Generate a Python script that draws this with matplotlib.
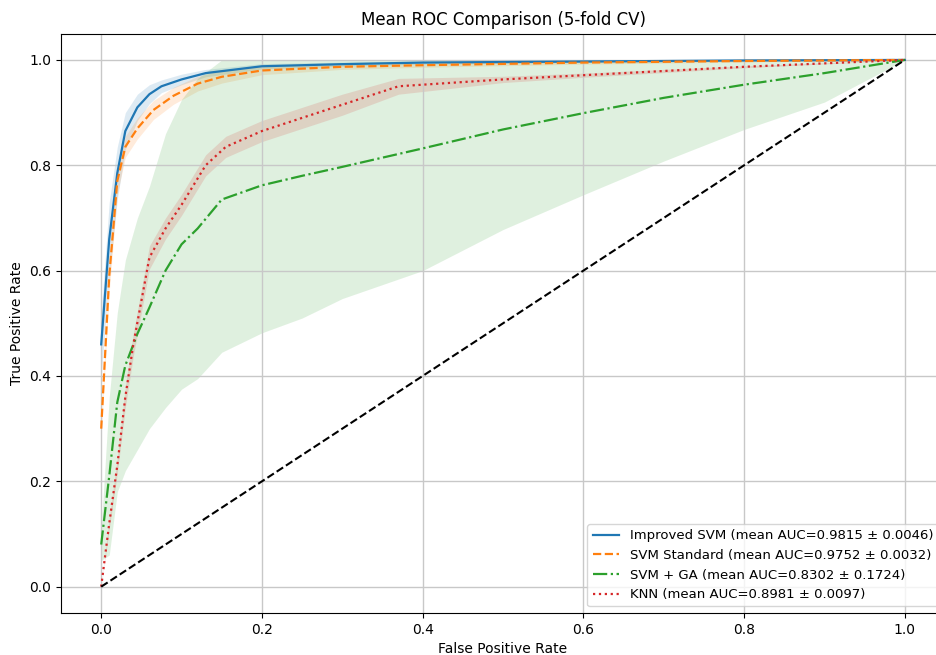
import numpy as np
import matplotlib
matplotlib.use("Agg")
import matplotlib.pyplot as plt

# ---- data ----
imp_fpr = [0, 0.01, 0.02, 0.03, 0.045, 0.06, 0.075, 0.1, 0.13, 0.2, 0.3, 0.4, 0.6, 0.8, 1.0]
imp_tpr = [0.46, 0.66, 0.785, 0.865, 0.91, 0.935, 0.95, 0.963, 0.975, 0.988, 0.992, 0.995, 0.997, 0.999, 1.0]
imp_std = [0.06, 0.07, 0.05, 0.035, 0.025, 0.018, 0.012, 0.01, 0.007, 0.005, 0.004, 0.003, 0.002, 0.001, 0.0]

std_fpr = [0, 0.01, 0.02, 0.03, 0.045, 0.065, 0.09, 0.12, 0.15, 0.2, 0.3, 0.4, 0.6, 0.8, 1.0]
std_tpr = [0.30, 0.59, 0.77, 0.835, 0.87, 0.905, 0.932, 0.955, 0.968, 0.98, 0.987, 0.99, 0.995, 0.998, 1.0]
std_std = [0.01, 0.03, 0.025, 0.02, 0.02, 0.018, 0.016, 0.014, 0.012, 0.008, 0.005, 0.004, 0.003, 0.002, 0.0]

ga_fpr = [0, 0.01, 0.02, 0.03, 0.045, 0.06, 0.08, 0.1, 0.12, 0.15, 0.2, 0.25, 0.3, 0.4, 0.5, 0.6, 0.7, 0.8, 0.9, 1.0]
ga_tpr = [0.08, 0.21, 0.35, 0.42, 0.48, 0.53, 0.60, 0.65, 0.68, 0.735, 0.762, 0.78, 0.797, 0.832, 0.868, 0.899, 0.928, 0.953, 0.975, 1.0]
ga_std = [0.03, 0.15, 0.17, 0.20, 0.22, 0.23, 0.26, 0.275, 0.285, 0.29, 0.28, 0.27, 0.25, 0.232, 0.19, 0.155, 0.12, 0.085, 0.055, 0.0]

knn_fpr = [0, 0.01, 0.02, 0.03, 0.04, 0.06, 0.08, 0.1, 0.13, 0.155, 0.2, 0.25, 0.3, 0.37, 0.5, 0.6, 0.8, 1.0]
knn_tpr = [0.0, 0.12, 0.23, 0.36, 0.46, 0.625, 0.68, 0.725, 0.80, 0.835, 0.865, 0.89, 0.915, 0.95, 0.963, 0.971, 0.987, 1.0]
knn_std = [0.0, 0.01, 0.015, 0.02, 0.022, 0.022, 0.02, 0.02, 0.02, 0.02, 0.02, 0.02, 0.02, 0.015, 0.006, 0.004, 0.002, 0.0]

labels = [
    "Improved SVM (mean AUC=0.9815 ± 0.0046)",
    "SVM Standard (mean AUC=0.9752 ± 0.0032)",
    "SVM + GA (mean AUC=0.8302 ± 0.1724)",
    "KNN (mean AUC=0.8981 ± 0.0097)",
]
colors = ["tab:blue", "tab:orange", "tab:green", "tab:red"]
styles = ["-", "--", "-.", ":"]
series = [
    (imp_fpr, imp_tpr, imp_std),
    (std_fpr, std_tpr, std_std),
    (ga_fpr, ga_tpr, ga_std),
    (knn_fpr, knn_tpr, knn_std),
]

fig = plt.figure(figsize=(9.36, 6.55), dpi=100)
ax = fig.add_axes([0.0652, 0.0641, 0.9444, 0.8846])

for (f, t, s), lab, c, ls in zip(series, labels, colors, styles):
    f = np.array(f); t = np.array(t); s = np.array(s)
    ax.plot(f, t, color=c, linestyle=ls, lw=1.6, label=lab)
    ax.fill_between(f, np.maximum(t - s, 0), np.minimum(t + s, 1), color=c, alpha=0.15, lw=0)

ax.plot([0, 1], [0, 1], "k--", lw=1.5)
ax.set_xlim(-0.05, 1.05)
ax.set_ylim(-0.05, 1.05)
ax.set_xlabel("False Positive Rate")
ax.set_ylabel("True Positive Rate")
ax.set_title("Mean ROC Comparison (5-fold CV)")
ax.grid(True, lw=1.0, color="#c8c8c8")
ax.legend(loc="lower right", fontsize=9.5)

fig.savefig("out.png", dpi=100)
